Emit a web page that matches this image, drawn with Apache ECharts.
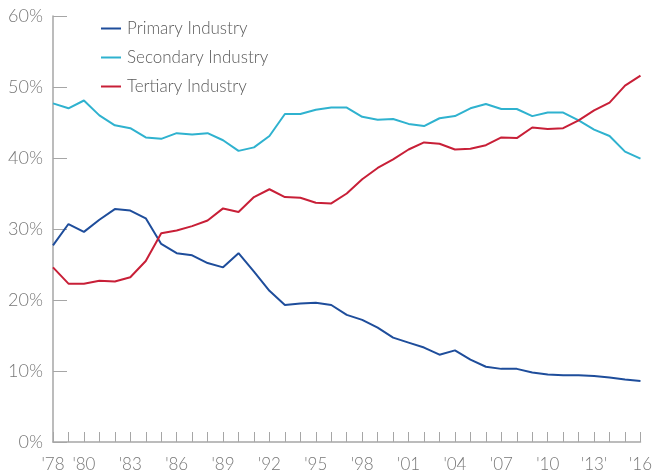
<!DOCTYPE html>
<html>
<head>
<meta charset="utf-8">
<script src="https://cdn.jsdelivr.net/npm/echarts@6/dist/echarts.min.js"></script>
<style>
  html, body { margin: 0; padding: 0; background: #fff; }
  #chart { width: 655px; height: 473px; }
</style>
</head>
<body>
<div id="chart"></div>
<script>
var years = [];
for (var y = 1978; y <= 2016; y++) years.push(y);

// label text shown under the axis (index -> text)
var yearLabels = {1978: "'78", 1980: "'80", 1983: "'83", 1986: "'86", 1989: "'89", 1992: "'92",
    1995: "'95", 1998: "'98", 2001: "'01", 2004: "'04", 2007: "'07", 2010: "'10", 2013: "'13'", 2016: "'16"};

var primary = [27.7, 30.7, 29.6, 31.3, 32.8, 32.6, 31.5, 27.9, 26.6, 26.3, 25.2, 24.6, 26.6, 24.0,
    21.3, 19.3, 19.5, 19.6, 19.3, 17.9, 17.2, 16.1, 14.7, 14.0, 13.3, 12.3, 12.9, 11.6, 10.6,
    10.3, 10.3, 9.8, 9.5, 9.4, 9.4, 9.3, 9.1, 8.8, 8.6];
var secondary = [47.7, 47.0, 48.1, 46.0, 44.6, 44.2, 42.9, 42.7, 43.5, 43.3, 43.5, 42.5, 41.0, 41.5,
    43.1, 46.2, 46.2, 46.8, 47.1, 47.1, 45.8, 45.4, 45.5, 44.8, 44.5, 45.6, 45.9, 47.0, 47.6,
    46.9, 46.9, 45.9, 46.4, 46.4, 45.3, 44.0, 43.1, 40.9, 39.9];
var tertiary = [24.6, 22.3, 22.3, 22.7, 22.6, 23.2, 25.5, 29.4, 29.8, 30.4, 31.2, 32.9, 32.4, 34.5,
    35.6, 34.5, 34.4, 33.7, 33.6, 35.0, 37.0, 38.6, 39.8, 41.2, 42.2, 42.0, 41.2, 41.3, 41.8,
    42.9, 42.8, 44.3, 44.1, 44.2, 45.3, 46.7, 47.8, 50.2, 51.6];

var myChart = echarts.init(document.getElementById('chart'));
var font = 'Lato, "DejaVu Sans", sans-serif';
var axisGrey = '#a6a6a6';

var option = {
    animation: false,
    textStyle: { fontFamily: font },
    legend: {
        orient: 'vertical',
        left: 96,
        top: 15,
        itemWidth: 20,
        itemHeight: 2,
        itemGap: 12,
        icon: 'rect',
        textStyle: { fontSize: 17, color: '#5a5a5a', fontWeight: 300, fontFamily: font, padding: [0, 0, 0, 1] },
        data: ['Primary Industry', 'Secondary Industry', 'Tertiary Industry']
    },
    grid: { left: 53, right: 5, top: 16, bottom: 30 },
    xAxis: {
        type: 'category',
        boundaryGap: false,
        data: years,
        axisLine: { lineStyle: { color: axisGrey, width: 1.5 } },
        axisTick: { inside: true, length: 10, interval: 0, lineStyle: { color: axisGrey } },
        axisLabel: {
            interval: 0,
            margin: 14,
            fontSize: 17,
            color: '#777',
            fontWeight: 300,
            fontFamily: font,
            formatter: function (v) { return yearLabels[v] || ''; }
        },
        splitLine: { show: false }
    },
    yAxis: {
        type: 'value',
        min: 0,
        max: 60,
        interval: 10,
        axisLine: { show: true, lineStyle: { color: axisGrey, width: 1.5 } },
        axisTick: { show: true, inside: true, length: 14, lineStyle: { color: axisGrey } },
        axisLabel: { fontSize: 18, color: '#777', fontWeight: 300, margin: 10, fontFamily: font, formatter: '{value}%' },
        splitLine: { show: false }
    },
    series: [
        { name: 'Primary Industry', type: 'line', data: primary, showSymbol: false,
          color: '#1e4d9b', lineStyle: { width: 2 } },
        { name: 'Secondary Industry', type: 'line', data: secondary, showSymbol: false,
          color: '#2fb2cf', lineStyle: { width: 2 } },
        { name: 'Tertiary Industry', type: 'line', data: tertiary, showSymbol: false,
          color: '#c81f37', lineStyle: { width: 2 } }
    ]
};
myChart.setOption(option);
</script>
</body>
</html>
